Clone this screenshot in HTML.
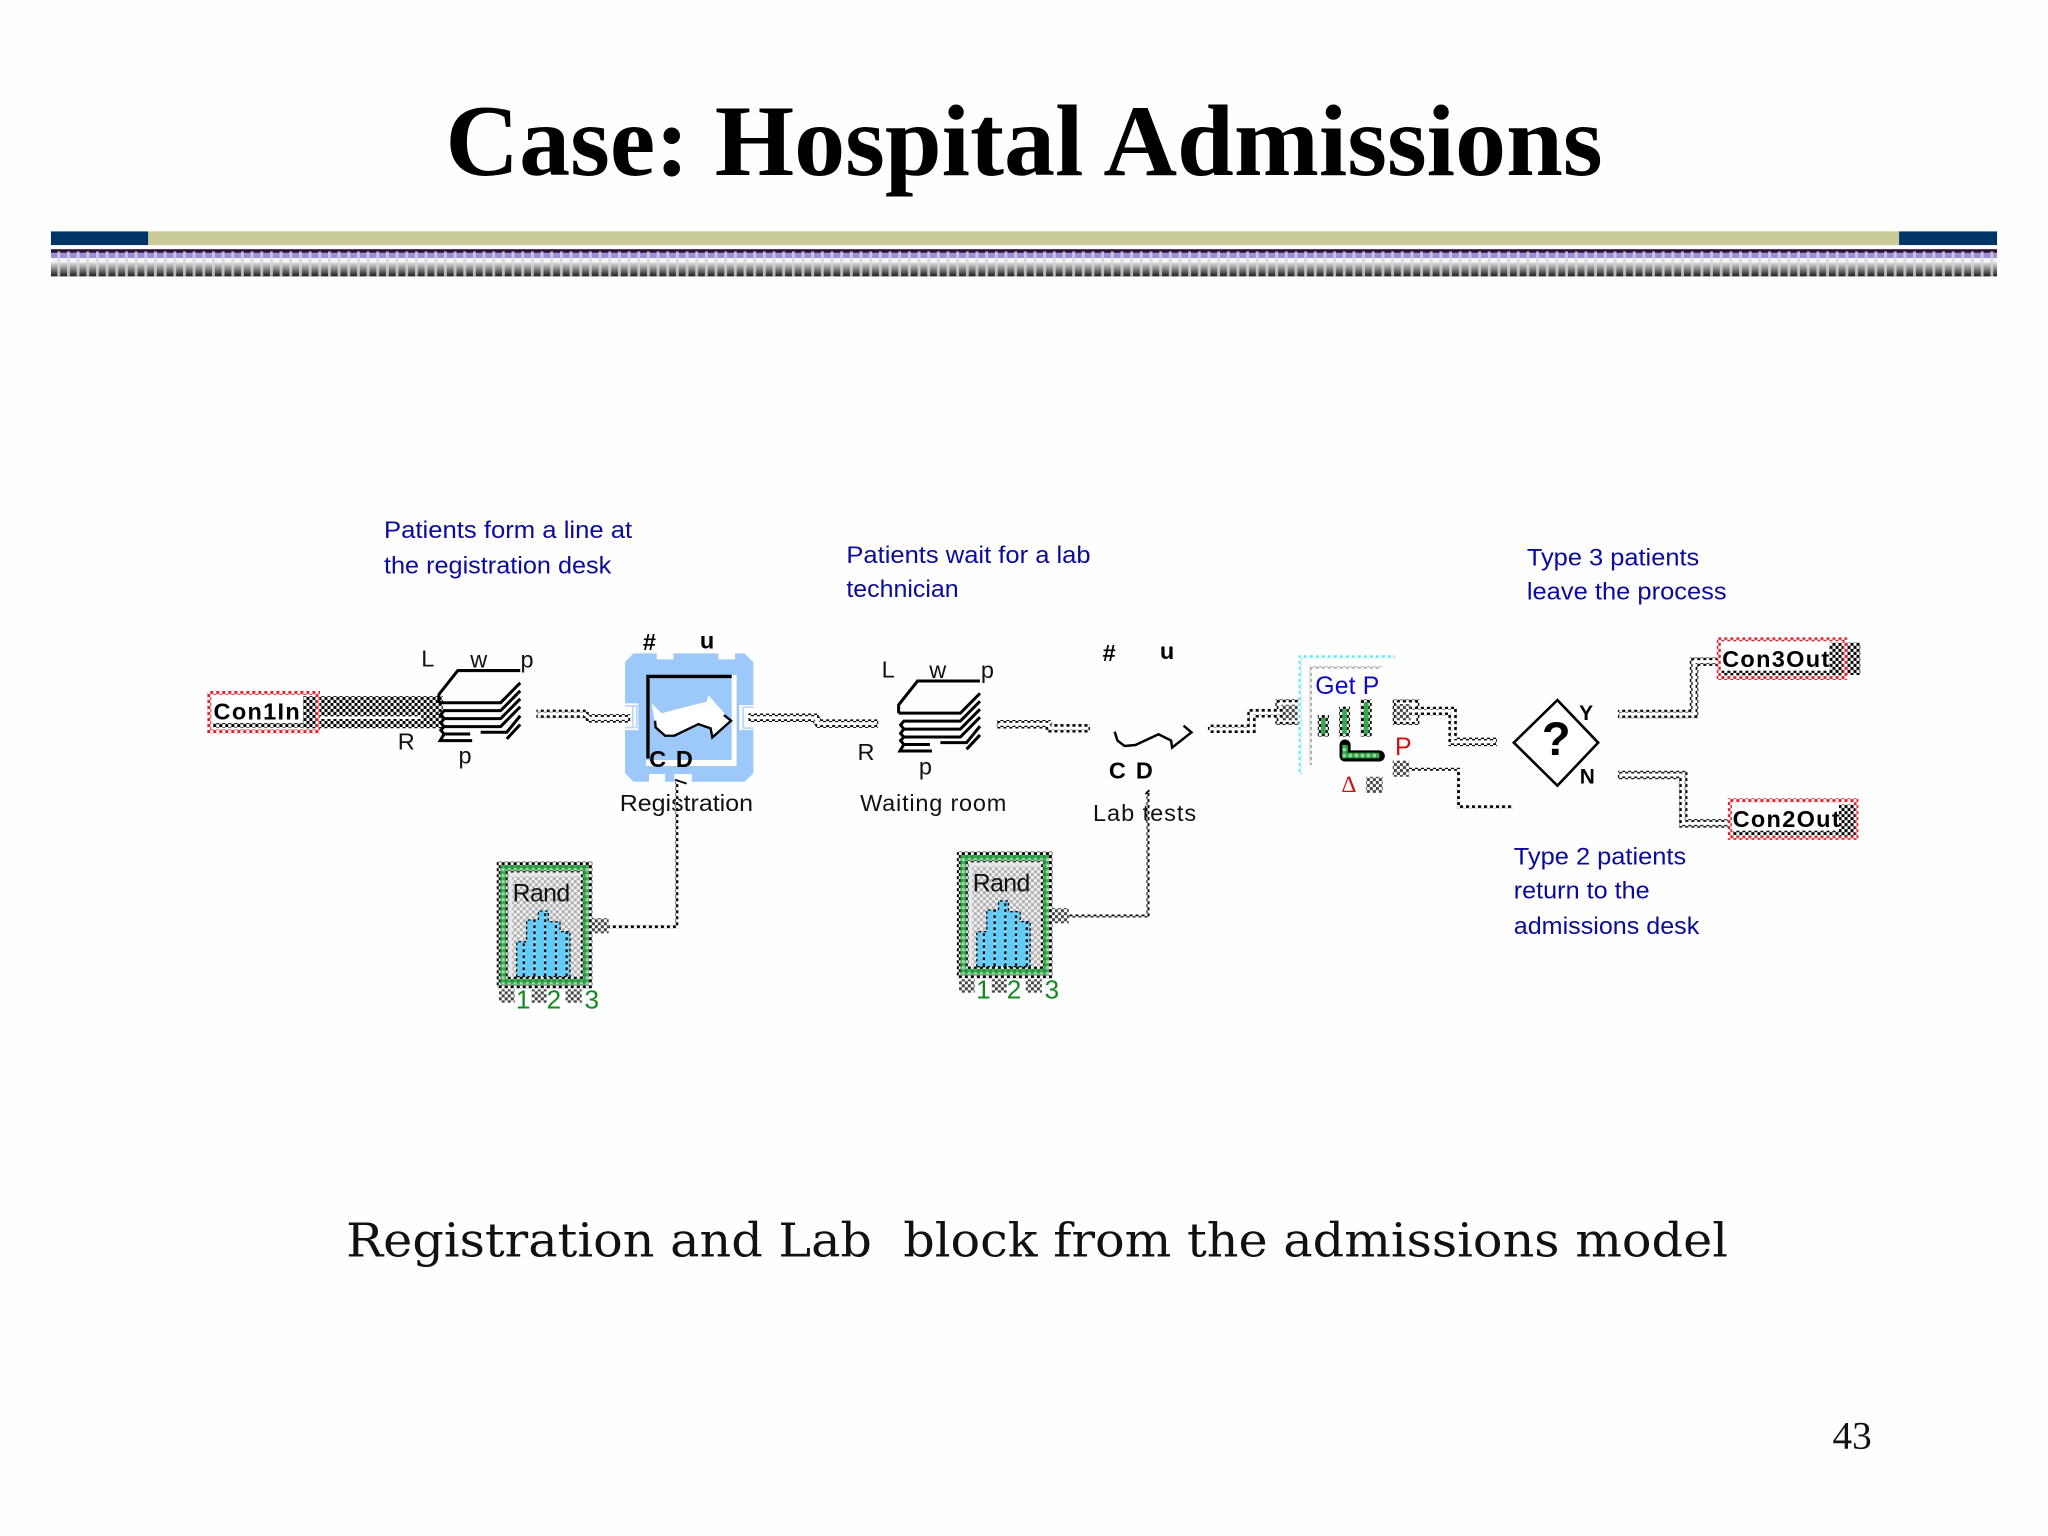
<!DOCTYPE html>
<html>
<head>
<meta charset="utf-8">
<title>Case: Hospital Admissions</title>
<style>
html,body{margin:0;padding:0;background:#fff}
svg{display:block;width:2048px;height:1536px}
text{font-family:"Liberation Sans",sans-serif;white-space:pre}
.t{font-size:18px;fill:#111}
.b{font-size:18px;font-weight:bold;fill:#000}
.n{font-size:18.5px;fill:#0a0a9c}
.g{font-size:20px;fill:#118a22}
.c{font-size:18px;font-weight:bold;fill:#000}
.h{fill:none;stroke:url(#k);stroke-width:6.5}
.w{fill:none;stroke:#fff;stroke-width:2.3}
.d{fill:none;stroke:url(#k);stroke-width:2.3}
</style>
</head>
<body>
<svg xmlns="http://www.w3.org/2000/svg" viewBox="0 0 1568 1176">
<defs>
<pattern id="k" patternUnits="userSpaceOnUse" width="4.6" height="4.6"><rect width="4.6" height="4.6" fill="#fff"/><rect width="2.3" height="2.3" fill="#000"/><rect x="2.3" y="2.3" width="2.3" height="2.3" fill="#000"/></pattern>
<pattern id="gy" patternUnits="userSpaceOnUse" width="4.6" height="4.6"><rect width="4.6" height="4.6" fill="#fff"/><rect width="2.3" height="2.3" fill="#444"/><rect x="2.3" y="2.3" width="2.3" height="2.3" fill="#444"/></pattern>
<pattern id="lg" patternUnits="userSpaceOnUse" width="4.6" height="4.6"><rect width="4.6" height="4.6" fill="#f2f2f2"/><rect width="2.3" height="2.3" fill="#b0b0b0"/><rect x="2.3" y="2.3" width="2.3" height="2.3" fill="#b0b0b0"/></pattern>
<pattern id="r" patternUnits="userSpaceOnUse" width="4.6" height="4.6"><rect width="4.6" height="4.6" fill="#fff"/><rect width="2.3" height="2.3" fill="#e0202a"/><rect x="2.3" y="2.3" width="2.3" height="2.3" fill="#e0202a"/></pattern>
<pattern id="gn" patternUnits="userSpaceOnUse" width="4.6" height="4.6"><rect width="4.6" height="4.6" fill="#3fa852"/><rect width="2.3" height="2.3" fill="#1f963a"/><rect x="2.3" y="2.3" width="2.3" height="2.3" fill="#9ed8a6"/></pattern>
<pattern id="cy" patternUnits="userSpaceOnUse" width="4.6" height="4.6"><rect width="4.6" height="4.6" fill="#fff"/><rect width="2.3" height="2.3" fill="#6fe6ee"/><rect x="2.3" y="2.3" width="2.3" height="2.3" fill="#6fe6ee"/></pattern>
<pattern id="bars" patternUnits="userSpaceOnUse" width="8.2" height="4.6"><rect width="8.2" height="4.6" fill="#62cbf6"/><rect x="6.6" width="1.6" height="2.3" fill="#000"/><rect x="6.6" y="2.3" width="1.6" height="2.3" fill="#9ad8ee"/></pattern>
<pattern id="vs" patternUnits="userSpaceOnUse" x="43.9" y="0" width="7.4" height="10"><rect width="2.2" height="10" fill="#d4d4d8" fill-opacity=".8"/></pattern>
<linearGradient id="fade" x1="0" y1="0" x2="0" y2="1"><stop offset="0" stop-color="#e4e4e4"/><stop offset=".45" stop-color="#8a8a8a"/><stop offset="1" stop-color="#1c1c1c"/></linearGradient>

<g id="stack" fill="none" stroke="#000" stroke-width="2.3">
<path d="M688,546V539.7L702.5,521.4H750.3"/>
<path d="M688,546H735.3L750.3,530.8"/>
<path d="M750.3,536.9L735.3,552.1H692L689.5,555L692,558.2H735.3L750.3,543"/>
<path d="M750.3,549.1L735.3,564.3H692L689.5,567L692,570H712"/>
<path d="M692,558.2L689.5,561.5L692,564.3"/>
<path d="M692,570L689,575H713.5"/>
<path d="M720,568.6H740L750.3,556"/>
<path d="M740,573.7L750.3,562.7"/>
</g>

<g id="rand">
<rect x="380.3" y="659.7" width="73.2" height="97" fill="url(#k)"/>
<rect x="383" y="662.4" width="67.8" height="91.6" fill="url(#gn)"/>
<rect x="387.5" y="666.5" width="59" height="83" fill="url(#k)"/>
<rect x="389.2" y="668" width="55.6" height="79.8" fill="url(#lg)"/>
<path d="M389.2,668H444.8V671H392.2V747.8H389.2Z" fill="#e6e6e6"/>
<path d="M395.6,747.8V721H403.2V704.4H412.2V697.5H419.8V705.7H428.8V713.3H436.4V747.8Z" fill="url(#bars)" stroke="#000" stroke-width="1" stroke-dasharray="2 2"/>
<rect x="453" y="703" width="13" height="11.6" fill="url(#gy)"/>
<rect x="382" y="757.5" width="12" height="10.2" fill="url(#gy)"/>
<rect x="407" y="757.5" width="11.5" height="10.2" fill="url(#gy)"/>
<rect x="433" y="757.5" width="12.4" height="10.2" fill="url(#gy)"/>
</g>
</defs>

<rect width="1568" height="1176" fill="#fefefe"/>

<text x="341" y="134" font-size="78" font-weight="bold" style="font-family:'Liberation Serif',serif" fill="#000" textLength="886" lengthAdjust="spacingAndGlyphs">Case: Hospital Admissions</text>

<rect x="39" y="176.6" width="1490" height="11.4" fill="#eef0e2"/>
<rect x="39" y="177.2" width="74.5" height="10.4" fill="#003366"/>
<rect x="113.5" y="177.2" width="1340.5" height="10.4" fill="#c9cc99"/>
<rect x="1454" y="177.2" width="75" height="10.4" fill="#003366"/>

<rect x="39" y="190.8" width="1490" height="2.8" fill="#2a0f3a"/>
<rect x="39" y="193.6" width="1490" height="4" fill="#9c8fd8"/>
<rect x="39" y="197.6" width="1490" height="3.2" fill="#f4f4f6"/>
<rect x="39" y="200.8" width="1490" height="10.8" fill="url(#fade)"/>
<rect x="39" y="192.5" width="1490" height="19.1" fill="url(#vs)"/>

<!-- Annotations -->
<text class="n" x="294" y="412" textLength="190" lengthAdjust="spacingAndGlyphs">Patients form a line at</text>
<text class="n" x="294" y="439" textLength="174" lengthAdjust="spacingAndGlyphs">the registration desk</text>
<text class="n" x="648" y="431" textLength="187" lengthAdjust="spacingAndGlyphs">Patients wait for a lab</text>
<text class="n" x="648" y="457" textLength="86" lengthAdjust="spacingAndGlyphs">technician</text>
<text class="n" x="1169" y="433" textLength="132" lengthAdjust="spacingAndGlyphs">Type 3 patients</text>
<text class="n" x="1169" y="459" textLength="153" lengthAdjust="spacingAndGlyphs">leave the process</text>
<text class="n" x="1159" y="662" textLength="132" lengthAdjust="spacingAndGlyphs">Type 2 patients</text>
<text class="n" x="1159" y="688" textLength="104" lengthAdjust="spacingAndGlyphs">return to the</text>
<text class="n" x="1159" y="715" textLength="142" lengthAdjust="spacingAndGlyphs">admissions desk</text>

<!-- Con1In and thick input connector -->
<path d="M232,533H339V557.6H232Z" fill="url(#k)"/>
<path d="M245,548.5H320L323,546.5L322,550.5H245Z" fill="#fff"/>
<rect x="158.7" y="529" width="86.3" height="32.4" fill="url(#r)"/>
<rect x="161.8" y="532" width="80" height="26.4" fill="#fff"/>
<rect x="232" y="533" width="10" height="24.6" fill="url(#k)"/>
<rect x="163" y="553.5" width="78" height="3.6" fill="url(#k)"/>
<text class="c" x="163.5" y="551" textLength="66" lengthAdjust="spacing">Con1In</text>

<!-- Stack 1 -->
<use href="#stack" x="-352" y="-8"/>
<rect x="361" y="570" width="7" height="6" fill="#fff"/>
<text class="t" x="322.5" y="510.4">L</text>
<text class="t" x="360" y="511">w</text>
<text class="t" x="398.5" y="511">p</text>
<text class="t" x="304.5" y="574">R</text>
<text class="t" x="351" y="584.4">p</text>

<!-- Registration block -->
<path d="M485,500.2H502.8V504.8H515.5V500.2H550V504.8H562.8V500.2H570L576.8,507V592L570,598.5H529.6V592.6H516.3V598.5H509.2V592.6H496.9V598.5H485L478.5,592V507Z" fill="#9cc9fa"/>
<rect x="478" y="538.5" width="10.7" height="20.5" fill="#fff"/>
<path d="M478.5,540.5H484.5V557H478.5M484.5,540.5H487.5V557H484.5" fill="none" stroke="#bcd9fa" stroke-width="1.4"/>
<rect x="566" y="539.8" width="11" height="19.2" fill="#fff"/>
<path d="M577,541.5H569V557.5H577" fill="none" stroke="#bcd9fa" stroke-width="1.4"/>
<path d="M560.2,516.8H564V586.5H494.6V581.9H560.2Z" fill="#fff"/>
<path d="M496.1,580.7V517.9H560.2" fill="none" stroke="#000" stroke-width="2.6"/>
<path d="M499,538.5L506.6,546.2L515.5,543.6L541,537.3L542.3,532.2L559.7,551.8L546.2,564.6L544.1,557.7L534.7,554.4L516.3,563.3L507.9,562.8L501.5,555.1Z" fill="#fff"/>
<path d="M501.5,551.8L502,556.9L509.2,563.3H516.3L534.7,554.4L544.1,557.7L545.4,564.6L559.7,551.8L554.3,547.5" fill="none" stroke="#000" stroke-width="1.8"/>
<text class="b" x="492.2" y="497.6">#</text>
<text class="b" x="535.8" y="496.4">u</text>
<text class="b" x="497" y="587.4">C</text>
<text class="b" x="517.5" y="587.4">D</text>
<text class="t" x="474.5" y="620.9" textLength="102" lengthAdjust="spacingAndGlyphs">Registration</text>
<path class="d" d="M518.2,598.4V709.5H466"/>
<path d="M516.8,597L525.7,600" stroke="#000" stroke-width="1.4" fill="none"/>

<!-- C1 -->
<path class="h" d="M410.7,546.6H447.3L451.7,550H482.5"/>
<path class="w" d="M412,546.6H447.3L451.7,550H481"/>

<!-- Rand 1 -->
<use href="#rand"/>
<text x="392.5" y="690.4" font-size="19" fill="#111" textLength="44" lengthAdjust="spacing">Rand</text>
<text class="g" x="395" y="772">1</text>
<text class="g" x="418.5" y="772">2</text>
<text class="g" x="447.5" y="772">3</text>

<!-- C2 -->
<path class="h" d="M573,549.5H624L627,554H672.4"/>
<path class="w" d="M574,549.5H624L627,554H671"/>

<!-- Waiting room -->
<use href="#stack"/>
<rect x="713" y="578" width="7" height="1" fill="#fff"/>
<text class="t" x="675" y="518.8">L</text>
<text class="t" x="711.5" y="519">w</text>
<text class="t" x="751" y="519">p</text>
<text class="t" x="656.5" y="582">R</text>
<text class="t" x="703.5" y="593">p</text>
<text class="t" x="658.5" y="620.9" textLength="112" lengthAdjust="spacing">Waiting room</text>

<!-- C3 -->
<path class="h" d="M763.2,554.5H802.3L804,557.6H834.6"/>
<path class="w" d="M764.5,554.5H802.3L804,557.6H833.4"/>

<!-- Lab tests -->
<text class="b" x="844.2" y="506">#</text>
<text class="b" x="888" y="504.5">u</text>
<text class="b" x="849" y="596">C</text>
<text class="b" x="869.7" y="596">D</text>
<path d="M853.4,560.2L855.6,567L861,571.1L869.3,570.4L887,562.2L896.6,567L897.4,572.4L912.2,560.7L906.2,555.6" fill="none" stroke="#000" stroke-width="1.9"/>
<text class="t" x="836.8" y="628.6" textLength="79" lengthAdjust="spacing">Lab tests</text>
<path class="d" d="M878.9,606V701.3H818"/>
<path d="M877,608L880,605" stroke="#000" stroke-width="1.4" fill="none"/>

<!-- Rand 2 -->
<use href="#rand" x="352.3" y="-7.7"/>
<text x="744.8" y="682.7" font-size="19" fill="#111" textLength="44" lengthAdjust="spacing">Rand</text>
<text class="g" x="747.3" y="764.3">1</text>
<text class="g" x="770.8" y="764.3">2</text>
<text class="g" x="799.8" y="764.3">3</text>

<!-- C4 -->
<rect x="976.5" y="535.4" width="19.9" height="19.6" fill="url(#k)"/>
<rect x="978.8" y="537.7" width="15.3" height="15" fill="#fff"/>
<rect x="981" y="539.5" width="12.5" height="12" fill="url(#gy)"/>
<path class="h" d="M924.8,558H958.2V546.1H982"/>
<path class="w" d="M926,558H958.2V546.1H982"/>

<!-- Get P -->
<path d="M995.3,593.4V502.8H1068" fill="none" stroke="url(#cy)" stroke-width="2.3"/>
<path d="M1003.5,585.8V511H1057.9" fill="none" stroke="url(#lg)" stroke-width="2"/>
<text x="1007" y="531.4" font-size="19" fill="#0a0ac8" textLength="49" lengthAdjust="spacing">Get P</text>
<rect x="1008.9" y="547.5" width="8.6" height="16.5" fill="url(#k)"/>
<rect x="1011.4" y="549.5" width="3.6" height="12.5" fill="#38a850"/>
<rect x="1025.2" y="541" width="8.4" height="23" fill="url(#k)"/>
<rect x="1027.6" y="543" width="3.6" height="19" fill="#38a850"/>
<rect x="1041.8" y="535.5" width="8.4" height="28.5" fill="url(#k)"/>
<rect x="1044.2" y="537.5" width="3.6" height="24.5" fill="#38a850"/>
<path d="M1029.8,570.4V578.8H1056" fill="none" stroke="#000" stroke-width="8.5" stroke-linejoin="round" stroke-linecap="round"/>
<path d="M1029.8,570.4V578.4H1056" fill="none" stroke="url(#gn)" stroke-width="4.4"/>
<text x="1068" y="578" font-size="19" fill="#cc1111">P</text>
<text x="1027" y="606.5" font-size="18" fill="#cc1111" style="font-family:'Liberation Serif',serif">Δ</text>
<rect x="1045.9" y="594.7" width="12.7" height="12.3" fill="url(#gy)"/>
<rect x="1066.3" y="582.4" width="12.7" height="12.3" fill="url(#gy)"/>
<path class="d" d="M1079,589H1116.6V617.7H1158.2"/>
<rect x="1066.3" y="535.5" width="20.4" height="19.5" fill="url(#k)"/>
<rect x="1068.6" y="537.8" width="15.8" height="14.9" fill="#fff"/>
<rect x="1069" y="539" width="11" height="12.5" fill="url(#gy)"/>
<path class="h" d="M1080,544.4H1112.2V568H1146"/>
<path class="w" d="M1078,544.4H1112.2V568H1144.8"/>

<!-- Decision -->
<path d="M1159,568.6L1192.4,536L1223.6,568.6L1192.4,601.5Z" fill="#fff" stroke="#000" stroke-width="2"/>
<text x="1180.5" y="578" font-size="36" font-weight="bold" fill="#000">?</text>
<text x="1209" y="551.3" font-size="16" font-weight="bold" fill="#000">Y</text>
<text x="1209.5" y="599.8" font-size="16" font-weight="bold" fill="#000">N</text>

<!-- C7, C8 -->
<path class="h" d="M1238.7,546.7H1297V506.6H1318"/>
<path class="w" d="M1240,546.7H1297V506.6H1318"/>
<path class="h" d="M1238.7,593.4H1288.7V630.4H1325"/>
<path class="w" d="M1240,593.4H1288.7V630.4H1325"/>

<!-- Con3Out -->
<rect x="1400.7" y="492" width="23.6" height="24.8" fill="url(#k)"/>
<rect x="1314.4" y="488" width="99.9" height="32.6" fill="url(#r)"/>
<rect x="1317.5" y="491" width="93.6" height="26.6" fill="#fff"/>
<rect x="1400.7" y="492" width="10.4" height="24.8" fill="url(#k)"/>
<rect x="1318" y="513.5" width="92" height="3.6" fill="url(#k)"/>
<text class="c" x="1318.5" y="510.5" textLength="82" lengthAdjust="spacing">Con3Out</text>

<!-- Con2Out -->
<rect x="1322.9" y="611.2" width="99.9" height="31.8" fill="url(#r)"/>
<rect x="1326" y="614.2" width="93.6" height="25.8" fill="#fff"/>
<rect x="1408" y="616" width="12.3" height="24" fill="url(#k)"/>
<rect x="1326.5" y="636" width="92" height="3.6" fill="url(#k)"/>
<text class="c" x="1326.5" y="633" textLength="82" lengthAdjust="spacing">Con2Out</text>

<!-- Caption and page number -->
<text x="265" y="962" font-size="36" fill="#111" style="font-family:'DejaVu Serif',serif" textLength="1058" lengthAdjust="spacingAndGlyphs">Registration and Lab  block from the admissions model</text>
<text x="1403" y="1109" font-size="30" fill="#111" style="font-family:'Liberation Serif',serif">43</text>
</svg>
</body>
</html>
